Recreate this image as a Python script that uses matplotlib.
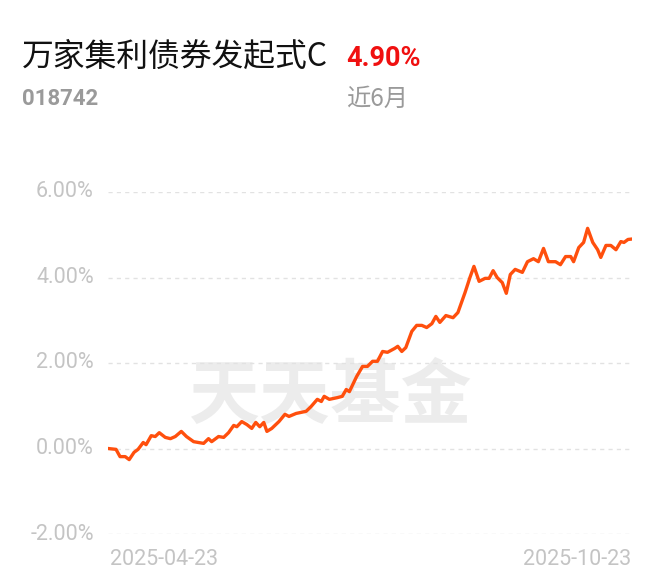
import numpy as np
import matplotlib
matplotlib.use('Agg')
import matplotlib.pyplot as plt

# data (days since 2025-04-23, cumulative return in %)
days = [0, 2.8, 4.2, 6.0, 7.4, 9.1, 10.5, 12.3, 13.3, 15.1, 16.5, 17.9, 20.0,
        21.8, 23.5, 25.6, 27.4, 29.9, 31.6, 33.4, 35.1, 36.2, 38.6, 40.4, 42.1,
        43.9, 45.0, 46.7, 48.5, 50.2, 51.6, 53.0, 54.4, 55.5, 57.2, 59.7, 61.8,
        63.2, 65.7, 69.2, 70.9, 73.1, 74.5, 75.5, 77.3, 80.1, 81.8, 83.2, 84.3,
        86.8, 88.9, 90.6, 92.4, 94.1, 95.9, 97.6, 100.1, 101.2, 102.6, 104.0,
        106.1, 107.8, 109.6, 111.3, 113.1, 114.5, 115.9, 118.0, 120.5, 122.2,
        124.7, 126.4, 127.8, 129.6, 131.7, 133.1, 134.5, 135.9, 137.7, 139.1,
        140.5, 142.2, 144.7, 146.5, 148.6, 150.3, 152.1, 153.8, 156.3, 158.0,
        159.8, 161.6, 162.6, 164.4, 166.1, 167.5, 169.3, 171.0, 172.1, 173.9,
        175.6, 177.4, 179.1, 180.2, 181.6, 183.0]
returns = [0.00, -0.02, -0.19, -0.19, -0.26, -0.09, -0.02, 0.14, 0.09, 0.30,
           0.28, 0.37, 0.26, 0.23, 0.28, 0.40, 0.28, 0.16, 0.14, 0.12, 0.23,
           0.16, 0.28, 0.26, 0.37, 0.54, 0.51, 0.63, 0.56, 0.47, 0.61, 0.51,
           0.61, 0.40, 0.47, 0.63, 0.80, 0.75, 0.82, 0.87, 0.98, 1.15, 1.10,
           1.22, 1.15, 1.19, 1.22, 1.38, 1.33, 1.68, 1.92, 1.92, 2.04, 2.04,
           2.27, 2.25, 2.34, 2.39, 2.27, 2.36, 2.74, 2.88, 2.88, 2.83, 2.92,
           3.09, 2.95, 3.11, 3.06, 3.18, 3.65, 4.00, 4.26, 3.91, 3.98, 3.98,
           4.16, 4.00, 3.88, 3.63, 4.07, 4.19, 4.12, 4.37, 4.44, 4.37, 4.68,
           4.37, 4.37, 4.30, 4.49, 4.49, 4.37, 4.70, 4.82, 5.15, 4.82, 4.65,
           4.47, 4.75, 4.75, 4.65, 4.84, 4.82, 4.89, 4.90]
y_ticks = [-2, 0, 2, 4, 6]
date_labels = ['2025-04-23', '2025-10-23']

fund_name = '万家集利债券发起式C'
fund_code = '018742'
period_ret = '4.90%'
period = '近6月'

cjk = ['Noto Sans CJK SC', 'DejaVu Sans']
num = ['Roboto', 'DejaVu Sans']
grey = '#c4c4c4'

fig = plt.figure(figsize=(6.6, 5.85), dpi=100)
ax = fig.add_axes([108 / 660, 51 / 585, 524 / 660, 342 / 585])

# watermark
ax.text(0.425, 0.40, '天天基金', transform=ax.transAxes, ha='center',
        va='center', fontsize=51, fontweight='bold', color='#ececec',
        family=cjk, zorder=0)

for t in y_ticks:
    ax.axhline(t, color='#e2e2e2', lw=1.0, ls=(0, (3, 3)), zorder=1)
    ax.text(-0.027, t, '%.2f%%' % t, transform=ax.get_yaxis_transform(),
            ha='right', va='center', fontsize=15.5, color=grey, family=num)

ax.plot(days, returns, color='#ff4f0d', lw=2.4, solid_joinstyle='round',
        zorder=3)

ax.set_xlim(0, 183)
ax.set_ylim(-2, 6)
ax.axis('off')

ax.text(0.004, -0.075, date_labels[0], transform=ax.transAxes, ha='left',
        va='center', fontsize=15.5, color=grey, family=num)
ax.text(0.998, -0.075, date_labels[1], transform=ax.transAxes, ha='right',
        va='center', fontsize=15.5, color=grey, family=num)

# header
fig.text(22 / 660, 1 - 57 / 585, fund_name, ha='left', va='center',
         fontsize=22.9, color='#111111', family=cjk)
fig.text(346 / 660, 1 - 58 / 585, period_ret, ha='left', va='center',
         fontsize=19.5, fontweight='bold', color='#f01010', family=num)
fig.text(22 / 660, 1 - 99 / 585, fund_code, ha='left', va='center',
         fontsize=16, fontweight='bold', color='#9a9a9a', family=num)
fig.text(346 / 660, 1 - 99 / 585, period, ha='left', va='center',
         fontsize=17.5, color='#9a9a9a', family=cjk)

fig.savefig('out.png', dpi=100)
